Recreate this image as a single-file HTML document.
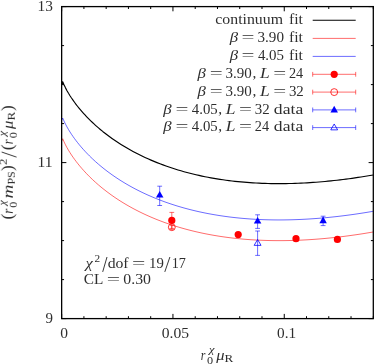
<!DOCTYPE html>
<html><head><meta charset="utf-8"><style>
html,body{margin:0;padding:0;background:#fff;}
svg{display:block;will-change:transform;font-family:"Liberation Serif",serif;font-size:15.3px;fill:#2e2e2e;}
</style></head><body>
<svg width="374" height="364" viewBox="0 0 374 364">
<rect width="374" height="364" fill="#fff"/>
<path d="M61.65,84.20 L62.7,81.72 L64.0,84.78 L65.5,87.87 L67.0,90.67 L68.5,93.27 L70.0,95.70 L71.5,98.00 L73.0,100.19 L74.5,102.29 L76.0,104.30 L77.5,106.23 L79.0,108.10 L80.5,109.90 L82.0,111.65 L83.5,113.34 L85.0,114.98 L86.5,116.58 L88.0,118.13 L89.5,119.64 L91.0,121.11 L92.5,122.54 L94.0,123.94 L95.5,125.31 L97.0,126.64 L98.5,127.94 L100.0,129.22 L103.0,131.68 L106.0,134.03 L109.0,136.29 L112.0,138.46 L115.0,140.54 L118.0,142.54 L121.0,144.46 L124.0,146.30 L127.0,148.08 L130.0,149.79 L133.0,151.44 L136.0,153.03 L139.0,154.55 L142.0,156.03 L145.0,157.44 L148.0,158.81 L151.0,160.12 L154.0,161.39 L157.0,162.61 L160.0,163.78 L163.0,164.91 L166.0,166.00 L169.0,167.04 L172.0,168.04 L175.0,169.01 L178.0,169.94 L181.0,170.82 L184.0,171.68 L187.0,172.49 L190.0,173.27 L193.0,174.02 L196.0,174.74 L199.0,175.42 L202.0,176.07 L205.0,176.69 L208.0,177.28 L211.0,177.84 L214.0,178.37 L217.0,178.87 L220.0,179.35 L223.0,179.79 L226.0,180.21 L229.0,180.61 L232.0,180.97 L235.0,181.32 L238.0,181.63 L241.0,181.92 L244.0,182.19 L247.0,182.43 L250.0,182.66 L253.0,182.85 L256.0,183.03 L259.0,183.18 L262.0,183.31 L265.0,183.42 L268.0,183.50 L271.0,183.57 L274.0,183.61 L277.0,183.64 L280.0,183.64 L283.0,183.63 L286.0,183.59 L289.0,183.54 L292.0,183.46 L295.0,183.37 L298.0,183.26 L301.0,183.13 L304.0,182.98 L307.0,182.82 L310.0,182.63 L313.0,182.43 L316.0,182.21 L319.0,181.98 L322.0,181.73 L325.0,181.46 L328.0,181.17 L331.0,180.87 L334.0,180.55 L337.0,180.22 L340.0,179.87 L343.0,179.50 L346.0,179.12 L349.0,178.72 L352.0,178.31 L355.0,177.89 L358.0,177.44 L361.0,176.99 L364.0,176.52 L367.0,176.03 L370.0,175.53 L373.3,174.97" stroke-linejoin="round" fill="none" stroke="#000" stroke-width="1.15"/>
<path d="M61.65,120.50 L62.7,118.02 L64.0,121.08 L65.5,124.17 L67.0,126.97 L68.5,129.57 L70.0,132.00 L71.5,134.30 L73.0,136.49 L74.5,138.59 L76.0,140.60 L77.5,142.53 L79.0,144.40 L80.5,146.20 L82.0,147.95 L83.5,149.64 L85.0,151.28 L86.5,152.88 L88.0,154.43 L89.5,155.94 L91.0,157.41 L92.5,158.84 L94.0,160.24 L95.5,161.61 L97.0,162.94 L98.5,164.24 L100.0,165.52 L103.0,167.98 L106.0,170.33 L109.0,172.59 L112.0,174.76 L115.0,176.84 L118.0,178.84 L121.0,180.76 L124.0,182.60 L127.0,184.38 L130.0,186.09 L133.0,187.74 L136.0,189.33 L139.0,190.85 L142.0,192.33 L145.0,193.74 L148.0,195.11 L151.0,196.42 L154.0,197.69 L157.0,198.91 L160.0,200.08 L163.0,201.21 L166.0,202.30 L169.0,203.34 L172.0,204.34 L175.0,205.31 L178.0,206.24 L181.0,207.12 L184.0,207.98 L187.0,208.79 L190.0,209.57 L193.0,210.32 L196.0,211.04 L199.0,211.72 L202.0,212.37 L205.0,212.99 L208.0,213.58 L211.0,214.14 L214.0,214.67 L217.0,215.17 L220.0,215.65 L223.0,216.09 L226.0,216.51 L229.0,216.91 L232.0,217.27 L235.0,217.62 L238.0,217.93 L241.0,218.22 L244.0,218.49 L247.0,218.73 L250.0,218.96 L253.0,219.15 L256.0,219.33 L259.0,219.48 L262.0,219.61 L265.0,219.72 L268.0,219.80 L271.0,219.87 L274.0,219.91 L277.0,219.94 L280.0,219.94 L283.0,219.93 L286.0,219.89 L289.0,219.84 L292.0,219.76 L295.0,219.67 L298.0,219.56 L301.0,219.43 L304.0,219.28 L307.0,219.12 L310.0,218.93 L313.0,218.73 L316.0,218.51 L319.0,218.28 L322.0,218.03 L325.0,217.76 L328.0,217.47 L331.0,217.17 L334.0,216.85 L337.0,216.52 L340.0,216.17 L343.0,215.80 L346.0,215.42 L349.0,215.02 L352.0,214.61 L355.0,214.19 L358.0,213.74 L361.0,213.29 L364.0,212.82 L367.0,212.33 L370.0,211.83 L373.3,211.27" stroke-linejoin="round" fill="none" stroke="#00f" stroke-width="0.58"/>
<path d="M61.65,141.20 L62.7,138.72 L64.0,141.78 L65.5,144.87 L67.0,147.67 L68.5,150.27 L70.0,152.70 L71.5,155.00 L73.0,157.19 L74.5,159.29 L76.0,161.30 L77.5,163.23 L79.0,165.10 L80.5,166.90 L82.0,168.65 L83.5,170.34 L85.0,171.98 L86.5,173.58 L88.0,175.13 L89.5,176.64 L91.0,178.11 L92.5,179.54 L94.0,180.94 L95.5,182.31 L97.0,183.64 L98.5,184.94 L100.0,186.22 L103.0,188.68 L106.0,191.03 L109.0,193.29 L112.0,195.46 L115.0,197.54 L118.0,199.54 L121.0,201.46 L124.0,203.30 L127.0,205.08 L130.0,206.79 L133.0,208.44 L136.0,210.03 L139.0,211.55 L142.0,213.03 L145.0,214.44 L148.0,215.81 L151.0,217.12 L154.0,218.39 L157.0,219.61 L160.0,220.78 L163.0,221.91 L166.0,223.00 L169.0,224.04 L172.0,225.04 L175.0,226.01 L178.0,226.94 L181.0,227.82 L184.0,228.68 L187.0,229.49 L190.0,230.27 L193.0,231.02 L196.0,231.74 L199.0,232.42 L202.0,233.07 L205.0,233.69 L208.0,234.28 L211.0,234.84 L214.0,235.37 L217.0,235.87 L220.0,236.35 L223.0,236.79 L226.0,237.21 L229.0,237.61 L232.0,237.97 L235.0,238.32 L238.0,238.63 L241.0,238.92 L244.0,239.19 L247.0,239.43 L250.0,239.66 L253.0,239.85 L256.0,240.03 L259.0,240.18 L262.0,240.31 L265.0,240.42 L268.0,240.50 L271.0,240.57 L274.0,240.61 L277.0,240.64 L280.0,240.64 L283.0,240.63 L286.0,240.59 L289.0,240.54 L292.0,240.46 L295.0,240.37 L298.0,240.26 L301.0,240.13 L304.0,239.98 L307.0,239.82 L310.0,239.63 L313.0,239.43 L316.0,239.21 L319.0,238.98 L322.0,238.73 L325.0,238.46 L328.0,238.17 L331.0,237.87 L334.0,237.55 L337.0,237.22 L340.0,236.87 L343.0,236.50 L346.0,236.12 L349.0,235.72 L352.0,235.31 L355.0,234.89 L358.0,234.44 L361.0,233.99 L364.0,233.52 L367.0,233.03 L370.0,232.53 L373.3,231.97" stroke-linejoin="round" fill="none" stroke="#f00" stroke-width="0.58"/>
<path d="M159.7,186.2V205.5M157.29999999999998,186.2h4.8M157.29999999999998,205.5h4.8" stroke="#00f" stroke-width="0.58" fill="none"/><path d="M159.7,191.00L163.45,197.60H155.95Z" fill="#00f"/><path d="M257.6,214.8V228.4M255.20000000000002,214.8h4.8M255.20000000000002,228.4h4.8" stroke="#00f" stroke-width="0.58" fill="none"/><path d="M257.6,217.00L261.35,223.60H253.85000000000002Z" fill="#00f"/><path d="M323.1,216.2V225.6M320.70000000000005,216.2h4.8M320.70000000000005,225.6h4.8" stroke="#00f" stroke-width="0.58" fill="none"/><path d="M323.1,216.60L326.85,223.20H319.35Z" fill="#00f"/><path d="M257.6,231.0V255.4M255.20000000000002,231.0h4.8M255.20000000000002,255.4h4.8" stroke="#00f" stroke-width="0.58" fill="none"/><path d="M257.6,239.47L261.05,245.37H254.15000000000003Z" fill="none" stroke="#00f" stroke-width="0.8"/><path d="M171.8,212.4V228.4M169.4,212.4h4.8M169.4,228.4h4.8" stroke="#f00" stroke-width="0.58" fill="none"/><circle cx="171.8" cy="220.4" r="3.6" fill="#f00"/><circle cx="238.2" cy="234.6" r="3.6" fill="#f00"/><circle cx="296.0" cy="238.7" r="3.6" fill="#f00"/><circle cx="337.4" cy="239.4" r="3.6" fill="#f00"/><path d="M171.8,225.6V229.4M169.8,225.6h4.0M169.8,229.4h4.0" stroke="#f00" stroke-width="0.58" fill="none"/><circle cx="171.8" cy="227.2" r="3.45" fill="none" stroke="#f00" stroke-width="0.8"/>

<path d="M312.7,20.3H355.7" stroke="#000" stroke-width="1.1"/>
<path d="M312.7,38.4H355.7" stroke="#f00" stroke-width="0.58"/>
<path d="M312.7,56.4H355.7" stroke="#00f" stroke-width="0.58"/>
<path d="M312.7,74.3H355.7M312.7,71.89999999999999v4.8M355.7,71.89999999999999v4.8" stroke="#f00" stroke-width="0.58" fill="none"/><circle cx="334.2" cy="74.3" r="3.6" fill="#f00"/>
<path d="M312.7,92.1H355.7M312.7,89.69999999999999v4.8M355.7,89.69999999999999v4.8" stroke="#f00" stroke-width="0.58" fill="none"/><circle cx="334.2" cy="92.1" r="3.45" fill="none" stroke="#f00" stroke-width="0.8"/>
<path d="M312.7,109.9H355.7M312.7,107.5v4.8M355.7,107.5v4.8" stroke="#00f" stroke-width="0.58" fill="none"/><path d="M334.2,105.80L337.95,112.40H330.45Z" fill="#00f"/>
<path d="M312.7,127.6H355.7M312.7,125.19999999999999v4.8M355.7,125.19999999999999v4.8" stroke="#00f" stroke-width="0.58" fill="none"/><path d="M334.2,123.97L337.65,129.87H330.75Z" fill="none" stroke="#00f" stroke-width="0.8"/>

<path d="M61.65,318.60v-4.7M61.65,6.60v4.7M83.91,318.60v-2.4M83.91,6.60v2.4M106.17,318.60v-2.4M106.17,6.60v2.4M128.43,318.60v-2.4M128.43,6.60v2.4M150.69,318.60v-2.4M150.69,6.60v2.4M172.95,318.60v-4.7M172.95,6.60v4.7M195.21,318.60v-2.4M195.21,6.60v2.4M217.47,318.60v-2.4M217.47,6.60v2.4M239.73,318.60v-2.4M239.73,6.60v2.4M261.99,318.60v-2.4M261.99,6.60v2.4M284.25,318.60v-4.7M284.25,6.60v4.7M306.51,318.60v-2.4M306.51,6.60v2.4M328.77,318.60v-2.4M328.77,6.60v2.4M351.03,318.60v-2.4M351.03,6.60v2.4M373.29,318.60v-2.4M373.29,6.60v2.4M61.65,318.60h4.7M373.30,318.60h-4.7M61.65,279.60h2.4M373.30,279.60h-2.4M61.65,240.60h2.4M373.30,240.60h-2.4M61.65,201.60h2.4M373.30,201.60h-2.4M61.65,162.60h4.7M373.30,162.60h-4.7M61.65,123.60h2.4M373.30,123.60h-2.4M61.65,84.60h2.4M373.30,84.60h-2.4M61.65,45.60h2.4M373.30,45.60h-2.4M61.65,6.60h4.7M373.30,6.60h-4.7" stroke="#000" stroke-width="1.0" fill="none"/>
<rect x="61.65" y="6.6" width="311.65" height="312.00" fill="none" stroke="#000" stroke-width="1.3"/>
<g style="filter:grayscale(1)">
<text x="215.31" y="24.10" textLength="67.73" lengthAdjust="spacingAndGlyphs">continuum</text><text x="288.92" y="24.10" textLength="14.07" lengthAdjust="spacingAndGlyphs">fit</text><text x="229.65" y="42.20" font-style="italic" textLength="8.36" lengthAdjust="spacingAndGlyphs">β</text><text x="241.45" y="42.20" textLength="12.98" lengthAdjust="spacingAndGlyphs">=</text><text x="257.48" y="42.20" textLength="26.49" lengthAdjust="spacingAndGlyphs">3.90</text><text x="288.92" y="42.20" textLength="14.07" lengthAdjust="spacingAndGlyphs">fit</text><text x="229.65" y="60.20" font-style="italic" textLength="8.36" lengthAdjust="spacingAndGlyphs">β</text><text x="241.45" y="60.20" textLength="12.98" lengthAdjust="spacingAndGlyphs">=</text><text x="257.90" y="60.20" textLength="26.09" lengthAdjust="spacingAndGlyphs">4.05</text><text x="288.92" y="60.20" textLength="14.07" lengthAdjust="spacingAndGlyphs">fit</text><text x="197.45" y="78.10" font-style="italic" textLength="8.36" lengthAdjust="spacingAndGlyphs">β</text><text x="209.65" y="78.10" textLength="12.98" lengthAdjust="spacingAndGlyphs">=</text><text x="225.49" y="78.10" textLength="26.28" lengthAdjust="spacingAndGlyphs">3.90</text><text x="252.43" y="78.10">,</text><text x="259.92" y="78.10" font-style="italic" textLength="9.73" lengthAdjust="spacingAndGlyphs">L</text><text x="273.15" y="78.10" textLength="12.98" lengthAdjust="spacingAndGlyphs">=</text><text x="288.96" y="78.10" textLength="14.26" lengthAdjust="spacingAndGlyphs">24</text><text x="197.45" y="95.90" font-style="italic" textLength="8.36" lengthAdjust="spacingAndGlyphs">β</text><text x="209.65" y="95.90" textLength="12.98" lengthAdjust="spacingAndGlyphs">=</text><text x="225.49" y="95.90" textLength="26.28" lengthAdjust="spacingAndGlyphs">3.90</text><text x="252.43" y="95.90">,</text><text x="259.92" y="95.90" font-style="italic" textLength="9.73" lengthAdjust="spacingAndGlyphs">L</text><text x="273.15" y="95.90" textLength="12.98" lengthAdjust="spacingAndGlyphs">=</text><text x="288.89" y="95.90" textLength="14.93" lengthAdjust="spacingAndGlyphs">32</text><text x="163.35" y="113.70" font-style="italic" textLength="8.36" lengthAdjust="spacingAndGlyphs">β</text><text x="175.55" y="113.70" textLength="12.98" lengthAdjust="spacingAndGlyphs">=</text><text x="191.80" y="113.70" textLength="25.89" lengthAdjust="spacingAndGlyphs">4.05</text><text x="218.33" y="113.70">,</text><text x="225.82" y="113.70" font-style="italic" textLength="9.73" lengthAdjust="spacingAndGlyphs">L</text><text x="239.05" y="113.70" textLength="12.98" lengthAdjust="spacingAndGlyphs">=</text><text x="254.79" y="113.70" textLength="14.93" lengthAdjust="spacingAndGlyphs">32</text><text x="273.88" y="113.70" textLength="29.35" lengthAdjust="spacingAndGlyphs">data</text><text x="163.35" y="131.40" font-style="italic" textLength="8.36" lengthAdjust="spacingAndGlyphs">β</text><text x="175.55" y="131.40" textLength="12.98" lengthAdjust="spacingAndGlyphs">=</text><text x="191.80" y="131.40" textLength="25.89" lengthAdjust="spacingAndGlyphs">4.05</text><text x="218.33" y="131.40">,</text><text x="225.82" y="131.40" font-style="italic" textLength="9.73" lengthAdjust="spacingAndGlyphs">L</text><text x="239.05" y="131.40" textLength="12.98" lengthAdjust="spacingAndGlyphs">=</text><text x="254.86" y="131.40" textLength="14.26" lengthAdjust="spacingAndGlyphs">24</text><text x="273.88" y="131.40" textLength="29.35" lengthAdjust="spacingAndGlyphs">data</text>
<text x="37.56" y="10.60" textLength="15.36" lengthAdjust="spacingAndGlyphs">13</text><text x="37.64" y="166.60" textLength="15.00" lengthAdjust="spacingAndGlyphs">11</text><text x="45.41" y="322.60" textLength="7.49" lengthAdjust="spacingAndGlyphs">9</text><text x="60.22" y="337.60" textLength="7.76" lengthAdjust="spacingAndGlyphs">0</text><text x="161.81" y="337.60" textLength="27.31" lengthAdjust="spacingAndGlyphs">0.05</text><text x="277.03" y="337.60" textLength="19.09" lengthAdjust="spacingAndGlyphs">0.1</text>
<text x="85.42" y="268.20" font-style="italic" textLength="7.25" lengthAdjust="spacingAndGlyphs">χ</text><text x="94.59" y="262.20" font-size="10.7" textLength="5.62" lengthAdjust="spacingAndGlyphs">2</text><path d="M102.70,271.90L107.00,257.00" stroke="#2e2e2e" stroke-width="0.95" fill="none"/><text x="107.65" y="268.20" textLength="20.96" lengthAdjust="spacingAndGlyphs">dof</text><text x="132.02" y="268.20" textLength="13.34" lengthAdjust="spacingAndGlyphs">=</text><text x="149.01" y="268.20" textLength="14.79" lengthAdjust="spacingAndGlyphs">19</text><path d="M164.80,271.90L169.90,257.00" stroke="#2e2e2e" stroke-width="0.95" fill="none"/><text x="171.66" y="268.20" textLength="14.16" lengthAdjust="spacingAndGlyphs">17</text><text x="83.69" y="284.00" textLength="19.53" lengthAdjust="spacingAndGlyphs">CL</text><text x="106.82" y="284.00" textLength="13.34" lengthAdjust="spacingAndGlyphs">=</text><text x="123.31" y="284.00" textLength="27.69" lengthAdjust="spacingAndGlyphs">0.30</text>
<text x="200.82" y="359.50" font-style="italic" textLength="4.64" lengthAdjust="spacingAndGlyphs">r</text><text x="206.94" y="363.50" font-size="10.7" textLength="6.12" lengthAdjust="spacingAndGlyphs">0</text><text x="208.99" y="352.80" font-style="italic" font-size="10.7" textLength="5.46" lengthAdjust="spacingAndGlyphs">χ</text><text x="216.20" y="359.50" font-style="italic" textLength="8.27" lengthAdjust="spacingAndGlyphs">μ</text><text x="224.61" y="361.90" font-size="10.7" textLength="8.72" lengthAdjust="spacingAndGlyphs">R</text>
<g transform="translate(12.8,219.0) rotate(-90)"><text x="-0.59" y="0.40" font-size="16.2" textLength="5.88" lengthAdjust="spacingAndGlyphs">(</text><text x="5.28" y="0.00" font-style="italic" textLength="5.08" lengthAdjust="spacingAndGlyphs">r</text><text x="11.25" y="4.00" font-size="10.7" textLength="6.00" lengthAdjust="spacingAndGlyphs">0</text><text x="13.56" y="-6.70" font-style="italic" font-size="10.7" textLength="5.30" lengthAdjust="spacingAndGlyphs">χ</text><text x="20.58" y="0.00" font-style="italic" textLength="13.94" lengthAdjust="spacingAndGlyphs">m</text><text x="34.44" y="2.40" font-size="10.7" textLength="13.30" lengthAdjust="spacingAndGlyphs">PS</text><text x="48.04" y="0.40" font-size="16.2" textLength="5.69" lengthAdjust="spacingAndGlyphs">)</text><text x="53.93" y="-6.40" font-size="10.7" textLength="6.38" lengthAdjust="spacingAndGlyphs">2</text><path d="M61.90,3.70L67.00,-11.20" stroke="#2e2e2e" stroke-width="0.95" fill="none"/><text x="68.81" y="0.40" font-size="16.2" textLength="5.88" lengthAdjust="spacingAndGlyphs">(</text><text x="74.70" y="0.00" font-style="italic" textLength="4.86" lengthAdjust="spacingAndGlyphs">r</text><text x="80.74" y="4.00" font-size="10.7" textLength="6.12" lengthAdjust="spacingAndGlyphs">0</text><text x="82.88" y="-6.70" font-style="italic" font-size="10.7" textLength="5.38" lengthAdjust="spacingAndGlyphs">χ</text><text x="89.90" y="0.00" font-style="italic" textLength="8.37" lengthAdjust="spacingAndGlyphs">μ</text><text x="98.41" y="2.40" font-size="10.7" textLength="8.72" lengthAdjust="spacingAndGlyphs">R</text><text x="108.04" y="0.40" font-size="16.2" textLength="5.69" lengthAdjust="spacingAndGlyphs">)</text></g>
</g>
</svg></body></html>
